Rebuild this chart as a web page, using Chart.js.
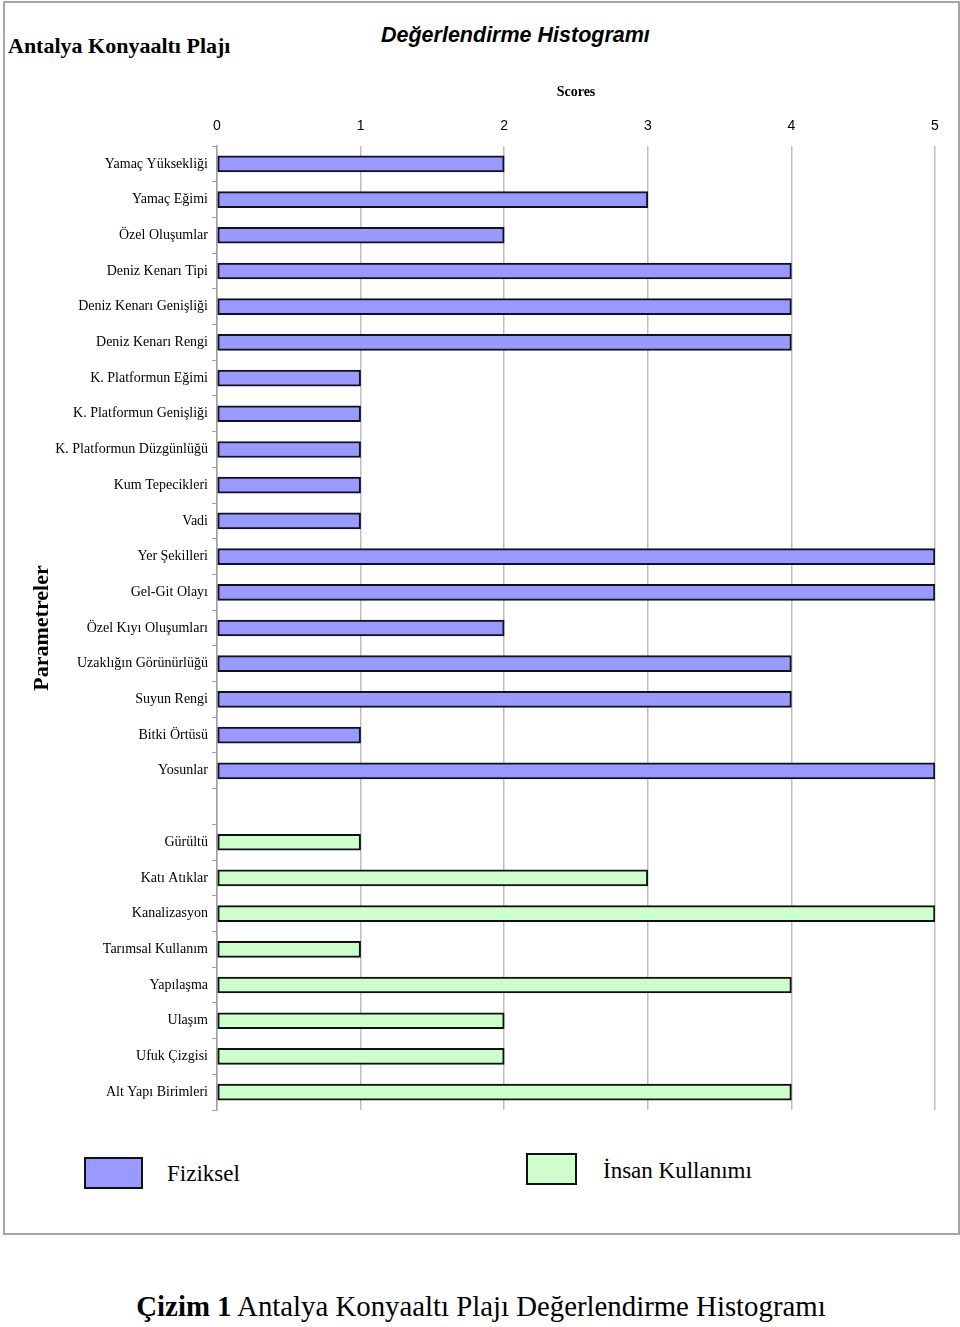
<!DOCTYPE html>
<html lang="tr">
<head>
<meta charset="utf-8">
<title>Antalya Konyaaltı Plajı - Değerlendirme Histogramı</title>
<script src="https://cdn.jsdelivr.net/npm/chart.js@4.4.1/dist/chart.umd.min.js"></script>
<style>
    body { margin: 0; background: #fff; }
    #page { position: relative; width: 960px; height: 1327px; overflow: hidden; }
    #frame { position: absolute; left: 3px; top: 1px; width: 953px; height: 1230px; border: 2px solid #a6a6a6; }
    #chartBox { position: absolute; left: 0; top: 0; width: 960px; height: 1126px; }
    .txt { position: absolute; white-space: nowrap; color: #000; }
    #place { left: 8px; top: 33px; font: bold 22px "Liberation Serif", serif; }
    #title { left: 381px; top: 23px; font: italic bold 21.5px "Liberation Sans", Arial, sans-serif; }
    .legBox { position: absolute; border: 2px solid #111; box-sizing: border-box; }
    .legTxt { font: 23px "Liberation Serif", serif; }
    #caption { left: 0; width: 962px; top: 1290px; text-align: center; font: 28.8px "Liberation Serif", serif; }
</style>
</head>
<body>
<div id="page">
    <div id="frame"></div>
    <div class="txt" id="place">Antalya Konyaaltı Plajı</div>
    <div class="txt" id="title">Değerlendirme Histogramı</div>
    <div id="chartBox"><canvas id="histChart"></canvas></div>
    <div class="legBox" style="left:84px; top:1157px; width:59px; height:32px; background:#9999ff;"></div>
    <div class="txt legTxt" style="left:167px; top:1161px;">Fiziksel</div>
    <div class="legBox" style="left:526px; top:1153px; width:51px; height:32px; background:#ccffcc;"></div>
    <div class="txt legTxt" style="left:603px; top:1158px;">İnsan Kullanımı</div>
    <div class="txt" id="caption"><b>Çizim 1</b> Antalya Konyaaltı Plajı Değerlendirme Histogramı</div>
</div>
<script>
// parametreler (boş etiket iki grup arasındaki boşluk)
const parametreler = [
    'Yamaç Yüksekliği', 'Yamaç Eğimi', 'Özel Oluşumlar', 'Deniz Kenarı Tipi',
    'Deniz Kenarı Genişliği', 'Deniz Kenarı Rengi', 'K. Platformun Eğimi',
    'K. Platformun Genişliği', 'K. Platformun Düzgünlüğü', 'Kum Tepecikleri', 'Vadi',
    'Yer Şekilleri', 'Gel-Git Olayı', 'Özel Kıyı Oluşumları', 'Uzaklığın Görünürlüğü',
    'Suyun Rengi', 'Bitki Örtüsü', 'Yosunlar',
    '',
    'Gürültü', 'Katı Atıklar', 'Kanalizasyon', 'Tarımsal Kullanım', 'Yapılaşma',
    'Ulaşım', 'Ufuk Çizgisi', 'Alt Yapı Birimleri'
];
const fiziksel = [2, 3, 2, 4, 4, 4, 1, 1, 1, 1, 1, 5, 5, 2, 4, 4, 1, 5,
    null, null, null, null, null, null, null, null, null];
const insanKullanimi = [null, null, null, null, null, null, null, null, null,
    null, null, null, null, null, null, null, null, null,
    null, 1, 3, 5, 1, 4, 2, 2, 4];
const scoreTicks = [0, 1, 2, 3, 4, 5];

document.addEventListener("DOMContentLoaded", function () {
    const ctx = document.getElementById('histChart').getContext('2d');
    new Chart(ctx, {
        type: 'bar',
        data: {
            labels: parametreler,
            datasets: [{
                label: 'Fiziksel',
                data: fiziksel,
                backgroundColor: '#9999ff',
                borderColor: '#111122',
                borderWidth: 2,
                borderSkipped: false,
                barThickness: 16
            }, {
                label: 'İnsan Kullanımı',
                data: insanKullanimi,
                backgroundColor: '#ccffcc',
                borderColor: '#111',
                borderWidth: 2,
                borderSkipped: false,
                barThickness: 16
            }]
        },
        options: {
            indexAxis: 'y',
            responsive: true,
            maintainAspectRatio: false,
            animation: false,
            grouped: false,
            layout: { padding: { left: 20, top: 76, right: 25, bottom: 16 } },
            plugins: {
                legend: { display: false },
                tooltip: { enabled: false }
            },
            scales: {
                x: {
                    position: 'top',
                    min: 0,
                    max: 5,
                    afterBuildTicks: function (scale) {
                        scale.ticks = scoreTicks.map(v => ({ value: v }));
                    },
                    afterFit: function (scale) { scale.height = 70; },
                    border: { display: false },
                    grid: { color: '#bfbfbf', lineWidth: 1.5, drawTicks: false },
                    ticks: {
                        color: '#000',
                        padding: 11,
                        font: { family: '"Liberation Sans", Arial, sans-serif', size: 14 }
                    },
                    title: {
                        display: true,
                        text: 'Scores',
                        color: '#000',
                        padding: { top: 8, bottom: 0 },
                        font: { family: '"Liberation Serif", serif', size: 14, weight: 'bold' }
                    }
                },
                y: {
                    afterFit: function (scale) { scale.width = 197; },
                    border: { display: true, color: '#a0a0a0', width: 1.5 },
                    grid: {
                        drawOnChartArea: false,
                        drawTicks: true,
                        tickLength: 5,
                        color: '#a0a0a0'
                    },
                    ticks: {
                        color: '#000',
                        padding: 4,
                        autoSkip: false,
                        font: { family: '"Liberation Serif", serif', size: 14 }
                    },
                    title: {
                        display: true,
                        text: 'Parametreler',
                        color: '#000',
                        padding: { top: 9, bottom: 0 },
                        font: { family: '"Liberation Serif", serif', size: 22, weight: 'bold' }
                    }
                }
            }
        }
    });
});
</script>
</body>
</html>
